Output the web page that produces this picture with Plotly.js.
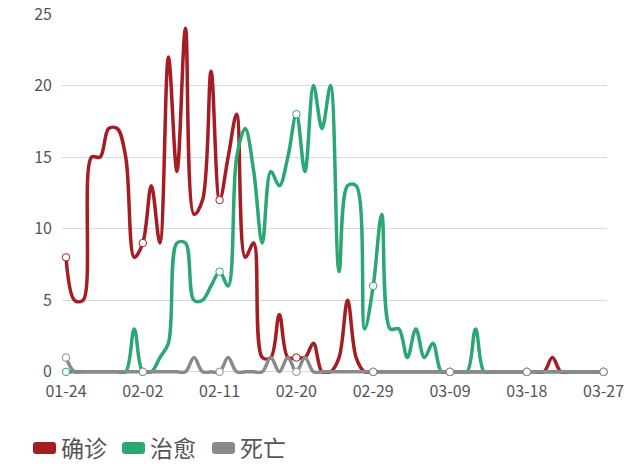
<!DOCTYPE html>
<html>
<head>
<meta charset="utf-8">
<script src="https://cdn.plot.ly/plotly-3.0.1.min.js"></script>
<style>
  html, body { margin: 0; padding: 0; background: #fff; }
  #chart { width: 640px; height: 466px; }
</style>
</head>
<body>
<div id="chart"></div>
<script>
var dates = [
  '01-24', '01-25', '01-26', '01-27', '01-28', '01-29', '01-30', '01-31',
  '02-01', '02-02', '02-03', '02-04', '02-05', '02-06', '02-07', '02-08', '02-09', '02-10',
  '02-11', '02-12', '02-13', '02-14', '02-15', '02-16', '02-17', '02-18', '02-19', '02-20',
  '02-21', '02-22', '02-23', '02-24', '02-25', '02-26', '02-27', '02-28', '02-29',
  '03-01', '03-02', '03-03', '03-04', '03-05', '03-06', '03-07', '03-08', '03-09', '03-10',
  '03-11', '03-12', '03-13', '03-14', '03-15', '03-16', '03-17', '03-18', '03-19', '03-20',
  '03-21', '03-22', '03-23', '03-24', '03-25', '03-26', '03-27'
];

var tickLabels = ['01-24', '02-02', '02-11', '02-20', '02-29', '03-09', '03-18', '03-27'];

// 确诊
var confirmed = [8, 5, 5, 15, 15, 17, 17, 15, 8, 9, 13, 9, 22, 14, 24, 11, 12, 21, 12, 15,
  18, 8, 9, 1, 1, 4, 1, 1, 1, 2, 0, 0, 1, 5, 1, 0, 0, 0, 0, 0,
  0, 0, 0, 0, 0, 0, 0, 0, 0, 0, 0, 0, 0, 0, 0, 0, 0, 1, 0, 0,
  0, 0, 0, 0];

// 治愈
var cured = [0, 0, 0, 0, 0, 0, 0, 0, 3, 0, 0, 1, 2, 9, 9, 5, 5, 6, 7, 6,
  15, 17, 14, 9, 14, 13, 15, 18, 14, 20, 17, 20, 7, 13, 13, 3, 6, 11, 3, 3,
  1, 3, 1, 2, 0, 0, 0, 0, 3, 0, 0, 0, 0, 0, 0, 0, 0, 0, 0, 0,
  0, 0, 0, 0];

// 死亡
var deaths = [1, 0, 0, 0, 0, 0, 0, 0, 0, 0, 0, 0, 0, 0, 0, 1, 0, 0, 0, 1,
  0, 0, 0, 0, 1, 0, 1, 0, 1, 0, 0, 0, 0, 0, 0, 0, 0, 0, 0, 0,
  0, 0, 0, 0, 0, 0, 0, 0, 0, 0, 0, 0, 0, 0, 0, 0, 0, 0, 0, 0,
  0, 0, 0, 0];

var names = ['确诊', '治愈', '死亡'];
var colours = ['#a51c22', '#2aa774', '#8a8a8a'];
var series = [confirmed, cured, deaths];

var data = [];

// lines
series.forEach(function(values, i) {
  data.push({
    x: dates,
    y: values,
    mode: 'lines',
    type: 'scatter',
    name: names[i],
    line: {color: colours[i], width: 3.5, shape: 'spline', smoothing: 1},
    hoverinfo: 'skip',
    showlegend: false
  });
});

// hollow symbols at the labelled days
series.forEach(function(values, i) {
  data.push({
    x: tickLabels,
    y: tickLabels.map(function(d) { return values[dates.indexOf(d)]; }),
    mode: 'markers',
    type: 'scatter',
    marker: {size: 7.5, color: '#fff', line: {color: colours[i], width: 1}},
    hoverinfo: 'skip',
    showlegend: false,
    cliponaxis: false
  });
});

// plot box in pixels, used for the hand drawn legend
var L = 62, R = 33, T = 14, B = 92, W = 640, H = 466;
var pw = W - L - R, ph = H - T - B;
function px(x) { return (x - L) / pw; }
function py(y) { return (H - B - y) / ph; }

function roundRect(x0, y0, x1, y1, r) {
  var rx = r / pw, ry = r / ph;
  var a = px(x0), b = px(x1), top = py(y0), bot = py(y1);
  return 'M' + (a + rx) + ',' + top +
    ' L' + (b - rx) + ',' + top +
    ' Q' + b + ',' + top + ' ' + b + ',' + (top - ry) +
    ' L' + b + ',' + (bot + ry) +
    ' Q' + b + ',' + bot + ' ' + (b - rx) + ',' + bot +
    ' L' + (a + rx) + ',' + bot +
    ' Q' + a + ',' + bot + ' ' + a + ',' + (bot + ry) +
    ' L' + a + ',' + (top - ry) +
    ' Q' + a + ',' + top + ' ' + (a + rx) + ',' + top + ' Z';
}

var legendX = [33, 122, 212];
var shapes = [], annotations = [];
legendX.forEach(function(x, i) {
  shapes.push({
    type: 'path', xref: 'paper', yref: 'paper',
    path: roundRect(x, 442, x + 23, 454, 3),
    fillcolor: colours[i], line: {width: 0}
  });
  annotations.push({
    xref: 'paper', yref: 'paper',
    x: px(x + 26), y: py(447),
    xanchor: 'left', yanchor: 'middle',
    text: names[i], showarrow: false,
    font: {family: 'Noto Sans CJK SC, sans-serif', size: 23, color: '#555'}
  });
});

var layout = {
  width: W,
  height: H,
  margin: {l: L, r: R, t: T, b: B},
  paper_bgcolor: '#fff',
  plot_bgcolor: '#fff',
  font: {family: 'Noto Sans CJK SC, sans-serif', size: 16, color: '#555'},
  showlegend: false,
  xaxis: {
    type: 'category',
    categoryarray: dates,
    range: [-0.47, 63.4],
    tickvals: tickLabels,
    ticktext: tickLabels,
    showgrid: false,
    zeroline: false,
    showline: false,
    ticks: '',
    ticklabelstandoff: 6,
    tickfont: {size: 16, color: '#555'}
  },
  yaxis: {
    range: [-0.15, 25],
    tickvals: [0, 5, 10, 15, 20, 25],
    gridcolor: '#d9d9d9',
    gridwidth: 1,
    zeroline: false,
    showline: false,
    ticks: '',
    ticklabelstandoff: 9,
    tickfont: {size: 16, color: '#555'}
  },
  shapes: shapes,
  annotations: annotations
};

Plotly.newPlot('chart', data, layout, {displayModeBar: false, staticPlot: true});
</script>
</body>
</html>
